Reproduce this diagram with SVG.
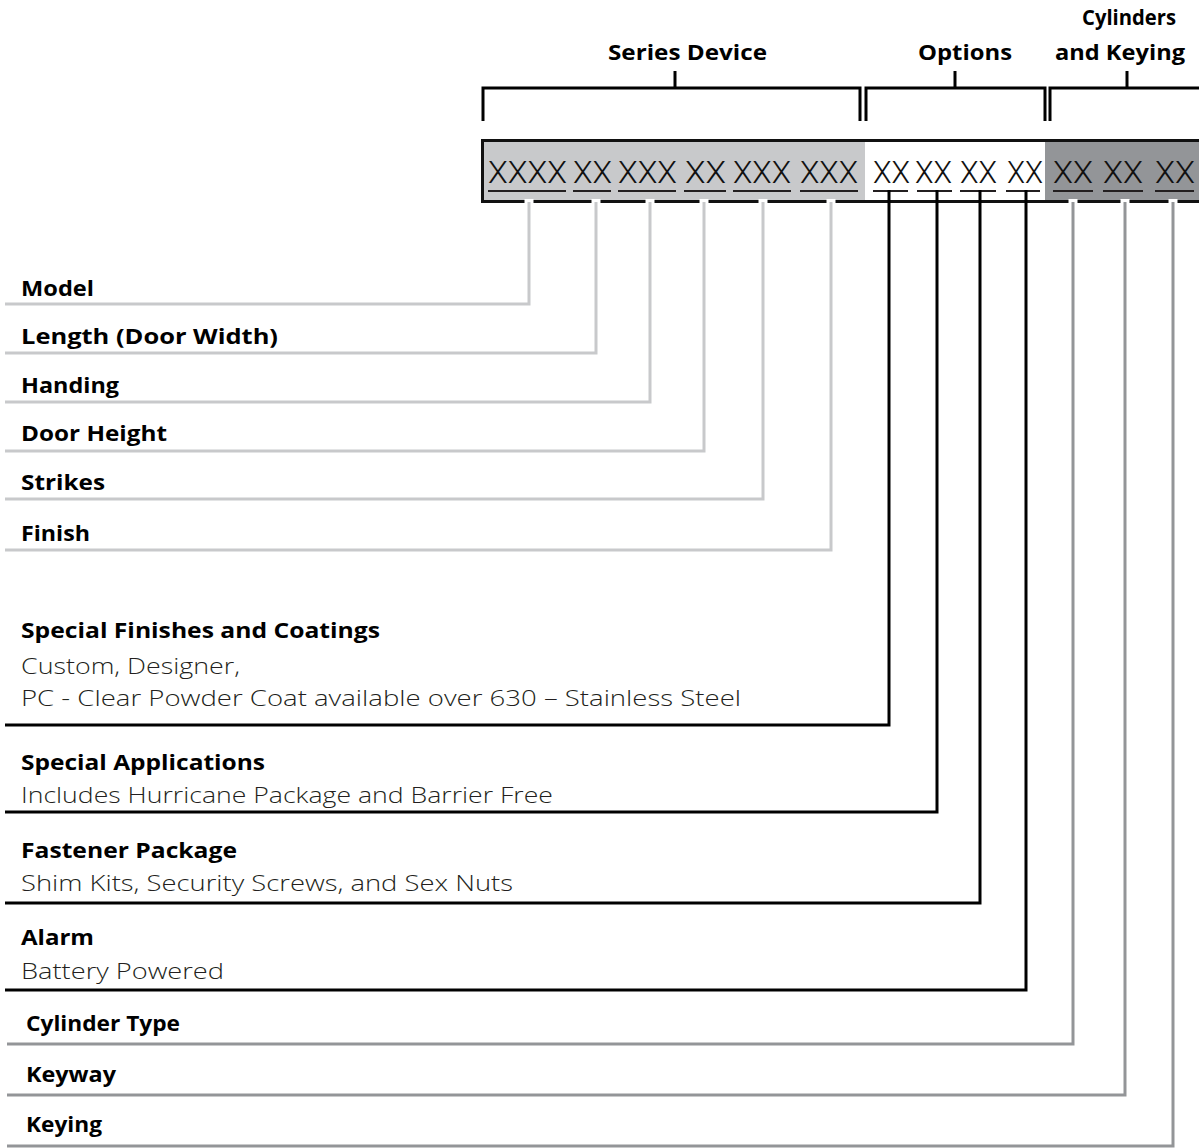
<svg xmlns="http://www.w3.org/2000/svg" width="1199" height="1148" viewBox="0 0 1199 1148">
<style>
.hdr{font-family:"Open Sans","Noto Sans","Liberation Sans",sans-serif;font-weight:700;font-size:21px;fill:#000;text-anchor:start}
.lbl{font-family:"Open Sans","Noto Sans","Liberation Sans",sans-serif;font-weight:700;font-size:21px;fill:#000}
.sub{font-family:"Open Sans","Noto Sans","Liberation Sans",sans-serif;font-weight:300;font-size:22px;fill:#231f20}
.code{font-family:Roboto,"Liberation Sans",sans-serif;font-weight:300;font-size:32px;fill:#111}
.brk{fill:none;stroke:#000;stroke-width:3;stroke-linecap:butt}
.ul{stroke:#231f20;stroke-width:2}
.c-lt{fill:none;stroke:#c8c9cb;stroke-width:3;stroke-linejoin:miter}
.c-bk{fill:none;stroke:#000;stroke-width:3;stroke-linejoin:miter}
.c-dk{fill:none;stroke:#939598;stroke-width:3;stroke-linejoin:miter}
.gap{stroke:#fff;stroke-width:9}
</style>

<g id="headers">
  <g id="hdr-series">
    <text class="hdr" x="608" y="60" textLength="159" lengthAdjust="spacingAndGlyphs">Series Device</text>
    <polyline class="brk" points="483,121 483,88 860,88 860,121"/>
    <line class="brk" x1="675" y1="71" x2="675" y2="88"/>
  </g>
  <g id="hdr-options">
    <text class="hdr" x="918" y="60" textLength="94" lengthAdjust="spacingAndGlyphs">Options</text>
    <polyline class="brk" points="866,121 866,88 1045,88 1045,121"/>
    <line class="brk" x1="955" y1="71" x2="955" y2="88"/>
  </g>
  <g id="hdr-cylinders">
    <text class="hdr" x="1082" y="25" textLength="94" lengthAdjust="spacingAndGlyphs">Cylinders</text>
    <text class="hdr" x="1055" y="60" textLength="130" lengthAdjust="spacingAndGlyphs">and Keying</text>
    <polyline class="brk" points="1050,121 1050,88 1199,88"/>
    <line class="brk" x1="1127" y1="71" x2="1127" y2="88"/>
  </g>
</g>

<g id="code-bar">
  <rect x="483" y="141" width="382" height="60" fill="#c8c9cb"/>
  <rect x="865" y="141" width="180" height="60" fill="#fff"/>
  <rect x="1045" y="141" width="160" height="60" fill="#939598"/>
  <path d="M1205,140.5 H482.5 V201.5 H1205" fill="none" stroke="#111" stroke-width="3"/>
  <g id="codes">
    <text class="code" x="488" y="183" textLength="79" lengthAdjust="spacingAndGlyphs">XXXX</text>
    <text class="code" x="573" y="183" textLength="39" lengthAdjust="spacingAndGlyphs">XX</text>
    <text class="code" x="618" y="183" textLength="59" lengthAdjust="spacingAndGlyphs">XXX</text>
    <text class="code" x="685" y="183" textLength="41" lengthAdjust="spacingAndGlyphs">XX</text>
    <text class="code" x="733" y="183" textLength="58" lengthAdjust="spacingAndGlyphs">XXX</text>
    <text class="code" x="800" y="183" textLength="58" lengthAdjust="spacingAndGlyphs">XXX</text>
    <text class="code" x="873" y="183" textLength="37" lengthAdjust="spacingAndGlyphs">XX</text>
    <text class="code" x="915" y="183" textLength="37" lengthAdjust="spacingAndGlyphs">XX</text>
    <text class="code" x="960" y="183" textLength="37" lengthAdjust="spacingAndGlyphs">XX</text>
    <text class="code" x="1007" y="183" textLength="36" lengthAdjust="spacingAndGlyphs">XX</text>
    <text class="code" x="1053" y="183" textLength="40" lengthAdjust="spacingAndGlyphs">XX</text>
    <text class="code" x="1103" y="183" textLength="40" lengthAdjust="spacingAndGlyphs">XX</text>
    <text class="code" x="1155" y="183" textLength="40" lengthAdjust="spacingAndGlyphs">XX</text>
  </g>
  <g id="underlines">
    <line class="ul" x1="488" y1="191" x2="566" y2="191"/>
    <line class="ul" x1="573" y1="191" x2="611" y2="191"/>
    <line class="ul" x1="618" y1="191" x2="676" y2="191"/>
    <line class="ul" x1="684" y1="191" x2="726" y2="191"/>
    <line class="ul" x1="733" y1="191" x2="791" y2="191"/>
    <line class="ul" x1="800" y1="191" x2="858" y2="191"/>
    <line class="ul" x1="873" y1="191" x2="908" y2="191"/>
    <line class="ul" x1="917" y1="191" x2="952" y2="191"/>
    <line class="ul" x1="960" y1="191" x2="996" y2="191"/>
    <line class="ul" x1="1006" y1="191" x2="1040" y2="191"/>
    <line class="ul" x1="1053" y1="191" x2="1093" y2="191"/>
    <line class="ul" x1="1103" y1="191" x2="1143" y2="191"/>
    <line class="ul" x1="1155" y1="191" x2="1194" y2="191"/>
  </g>
</g>

<g id="connectors">
  <g id="gaps">
    <line class="gap" x1="529" y1="199" x2="529" y2="204"/>
    <line class="gap" x1="596" y1="199" x2="596" y2="204"/>
    <line class="gap" x1="650" y1="199" x2="650" y2="204"/>
    <line class="gap" x1="704" y1="199" x2="704" y2="204"/>
    <line class="gap" x1="763" y1="199" x2="763" y2="204"/>
    <line class="gap" x1="831" y1="199" x2="831" y2="204"/>
    <line class="gap" x1="1073" y1="199" x2="1073" y2="204"/>
    <line class="gap" x1="1125" y1="199" x2="1125" y2="204"/>
    <line class="gap" x1="1173" y1="199" x2="1173" y2="204"/>
  </g>
  <polyline class="c-lt" points="529,202 529,304 5,304"/>
  <polyline class="c-lt" points="596,202 596,353 5,353"/>
  <polyline class="c-lt" points="650,202 650,402 5,402"/>
  <polyline class="c-lt" points="704,202 704,451 5,451"/>
  <polyline class="c-lt" points="763,202 763,499 5,499"/>
  <polyline class="c-lt" points="831,202 831,550 5,550"/>
  <polyline class="c-bk" points="889,190 889,725 5,725"/>
  <polyline class="c-bk" points="937,190 937,812 5,812"/>
  <polyline class="c-bk" points="980,190 980,903 5,903"/>
  <polyline class="c-bk" points="1026,190 1026,990 5,990"/>
  <polyline class="c-dk" points="1073,202 1073,1044 7,1044"/>
  <polyline class="c-dk" points="1125,202 1125,1095 7,1095"/>
  <polyline class="c-dk" points="1173,202 1173,1146 7,1146"/>
</g>

<g id="labels">
  <g id="n-model"><text class="lbl" x="21" y="296" textLength="73" lengthAdjust="spacingAndGlyphs">Model</text></g>
  <g id="n-length"><text class="lbl" x="21" y="344" textLength="257" lengthAdjust="spacingAndGlyphs">Length (Door Width)</text></g>
  <g id="n-handing"><text class="lbl" x="21" y="393" textLength="98" lengthAdjust="spacingAndGlyphs">Handing</text></g>
  <g id="n-doorheight"><text class="lbl" x="21" y="441" textLength="146" lengthAdjust="spacingAndGlyphs">Door Height</text></g>
  <g id="n-strikes"><text class="lbl" x="21" y="490" textLength="84" lengthAdjust="spacingAndGlyphs">Strikes</text></g>
  <g id="n-finish"><text class="lbl" x="21" y="541" textLength="69" lengthAdjust="spacingAndGlyphs">Finish</text></g>
  <g id="n-specialfinishes">
    <text class="lbl" x="21" y="638" textLength="359" lengthAdjust="spacingAndGlyphs">Special Finishes and Coatings</text>
    <text class="sub" x="21" y="674" textLength="219" lengthAdjust="spacingAndGlyphs">Custom, Designer,</text>
    <text class="sub" x="21" y="706" textLength="720" lengthAdjust="spacingAndGlyphs">PC - Clear Powder Coat available over 630 – Stainless Steel</text>
  </g>
  <g id="n-specialapps">
    <text class="lbl" x="21" y="770" textLength="244" lengthAdjust="spacingAndGlyphs">Special Applications</text>
    <text class="sub" x="21" y="803" textLength="532" lengthAdjust="spacingAndGlyphs">Includes Hurricane Package and Barrier Free</text>
  </g>
  <g id="n-fastener">
    <text class="lbl" x="21" y="858" textLength="216" lengthAdjust="spacingAndGlyphs">Fastener Package</text>
    <text class="sub" x="21" y="891" textLength="492" lengthAdjust="spacingAndGlyphs">Shim Kits, Security Screws, and Sex Nuts</text>
  </g>
  <g id="n-alarm">
    <text class="lbl" x="21" y="945" textLength="73" lengthAdjust="spacingAndGlyphs">Alarm</text>
    <text class="sub" x="21" y="979" textLength="203" lengthAdjust="spacingAndGlyphs">Battery Powered</text>
  </g>
  <g id="n-cyltype"><text class="lbl" x="26" y="1031" textLength="154" lengthAdjust="spacingAndGlyphs">Cylinder Type</text></g>
  <g id="n-keyway"><text class="lbl" x="26" y="1082" textLength="90" lengthAdjust="spacingAndGlyphs">Keyway</text></g>
  <g id="n-keying"><text class="lbl" x="26" y="1132" textLength="76" lengthAdjust="spacingAndGlyphs">Keying</text></g>
</g>
</svg>
